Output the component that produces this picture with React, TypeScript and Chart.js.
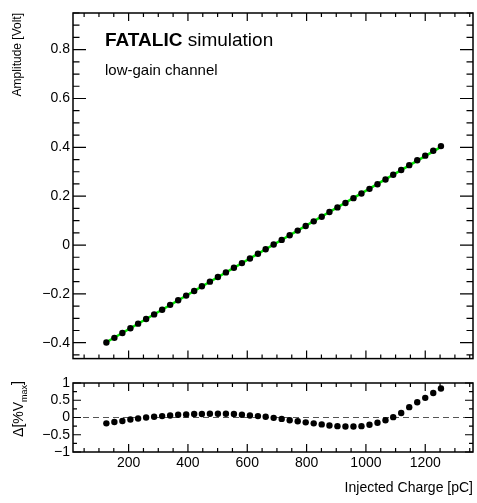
import React, { useEffect, useRef } from "react";
import { Chart, registerables } from "chart.js";

Chart.register(...registerables);

const FONT = "'Liberation Sans', Arial, Helvetica, sans-serif";

// Injected charge [pC]
const charge = [
  125, 152, 179, 206, 232, 259, 286, 313, 340, 367, 394, 421, 447, 474, 501,
  528, 555, 582, 609, 636, 662, 689, 716, 743, 770, 797, 824, 851, 877, 904,
  931, 958, 985, 1012, 1039, 1066, 1092, 1119, 1146, 1173, 1200, 1227, 1253,
];
// Amplitude [Volt]
const amplitude = [
  -0.399, -0.38, -0.36, -0.341, -0.322, -0.303, -0.284, -0.265, -0.245, -0.226,
  -0.207, -0.188, -0.169, -0.15, -0.131, -0.112, -0.093, -0.074, -0.055, -0.036,
  -0.017, 0.002, 0.021, 0.04, 0.059, 0.078, 0.097, 0.116, 0.135, 0.154, 0.172,
  0.192, 0.211, 0.23, 0.249, 0.268, 0.288, 0.307, 0.327, 0.347, 0.366, 0.386,
  0.405,
];
// Residual Δ[%Vmax]
const residual = [
  -0.17, -0.13, -0.1, -0.06, -0.03, 0.0, 0.02, 0.04, 0.06, 0.08, 0.09, 0.1,
  0.1, 0.11, 0.11, 0.11, 0.1, 0.08, 0.06, 0.04, 0.02, -0.01, -0.04, -0.08,
  -0.11, -0.14, -0.17, -0.2, -0.23, -0.25, -0.26, -0.26, -0.25, -0.21, -0.15,
  -0.08, 0.01, 0.13, 0.3, 0.44, 0.57, 0.71, 0.84,
];
// Linear fit end points
const fitCharge = [125, 1253];
const fitAmplitude = [-0.398, 0.402];

const xRange = [12.5, 1361];
const ampRange = [-0.465, 0.95];
const resRange = [-1, 1];

const fmt = (v: number) => {
  const n = Number(Number(v).toFixed(3));
  return String(n).replace("-", "\u2212");
};

type TickSpec = {
  xMajor: number; xMinor: number; xMajLen: number; xMinLen: number;
  yMajor: number; yMinor: number; yMajLen: number; yMinLen: number;
};

function framePlugin(spec: TickSpec) {
  return {
    id: "frameTicks",
    afterDatasetsDraw(chart: any) {
      const { ctx, chartArea } = chart;
      const { left, right, top, bottom } = chartArea;
      const xs = chart.scales.x;
      const ys = chart.scales.y;
      ctx.save();
      ctx.strokeStyle = "#000";
      ctx.lineWidth = 1.2;
      ctx.beginPath();
      const x0 = Math.ceil(xs.min / spec.xMinor) * spec.xMinor;
      for (let v = x0; v <= xs.max + 1e-9; v += spec.xMinor) {
        const isMaj = Math.abs(v / spec.xMajor - Math.round(v / spec.xMajor)) < 1e-6;
        const len = isMaj ? spec.xMajLen : spec.xMinLen;
        const px = xs.getPixelForValue(v);
        ctx.moveTo(px, bottom);
        ctx.lineTo(px, bottom - len);
        ctx.moveTo(px, top);
        ctx.lineTo(px, top + len);
      }
      const y0 = Math.ceil((ys.min - 1e-9) / spec.yMinor) * spec.yMinor;
      for (let v = y0; v <= ys.max + 1e-9; v += spec.yMinor) {
        const isMaj = Math.abs(v / spec.yMajor - Math.round(v / spec.yMajor)) < 1e-6;
        const len = isMaj ? spec.yMajLen : spec.yMinLen;
        const py = ys.getPixelForValue(v);
        ctx.moveTo(left, py);
        ctx.lineTo(left + len, py);
        ctx.moveTo(right, py);
        ctx.lineTo(right - len, py);
      }
      ctx.stroke();
      ctx.lineWidth = 1.5;
      ctx.strokeRect(left, top, right - left, bottom - top);
      ctx.restore();
    },
  };
}

const topTextPlugin = {
  id: "topText",
  afterDraw(chart: any) {
    const { ctx } = chart;
    ctx.save();
    ctx.fillStyle = "#000";
    ctx.textBaseline = "alphabetic";
    ctx.textAlign = "left";
    ctx.font = `bold 19px ${FONT}`;
    ctx.fillText("FATALIC", 105, 46);
    const w = ctx.measureText("FATALIC").width;
    ctx.font = `19px ${FONT}`;
    ctx.fillText(" simulation", 105 + w, 46);
    ctx.font = `15px ${FONT}`;
    ctx.fillText("low-gain channel", 105, 75);
    ctx.restore();
  },
};

const resTitlePlugin = {
  id: "resTitle",
  afterDraw(chart: any) {
    const { ctx } = chart;
    ctx.save();
    ctx.fillStyle = "#000";
    ctx.translate(19.5, 11);
    ctx.rotate(-Math.PI / 2);
    ctx.textBaseline = "middle";
    ctx.textAlign = "left";
    const main = "\u0394[%V";
    const sub = "max";
    const close = "]";
    ctx.font = `14px ${FONT}`;
    const w1 = ctx.measureText(main).width;
    const w3 = ctx.measureText(close).width;
    ctx.font = `9px ${FONT}`;
    const w2 = ctx.measureText(sub).width;
    let x = -(w1 + w2 + w3);
    ctx.font = `14px ${FONT}`;
    ctx.fillText(main, x, 0);
    x += w1;
    ctx.font = `9px ${FONT}`;
    ctx.fillText(sub, x, 5);
    x += w2;
    ctx.font = `14px ${FONT}`;
    ctx.fillText(close, x, -1);
    ctx.restore();
  },
};

export default function App() {
  const topRef = useRef<HTMLCanvasElement>(null);
  const botRef = useRef<HTMLCanvasElement>(null);

  useEffect(() => {
    Chart.defaults.font.family = FONT;
    Chart.defaults.color = "#000";

    const pts = charge.map((c, i) => ({ x: c, y: amplitude[i] }));
    const fit = fitCharge.map((c, i) => ({ x: c, y: fitAmplitude[i] }));
    const res = charge.map((c, i) => ({ x: c, y: residual[i] }));
    const zero = [
      { x: xRange[0], y: 0 },
      { x: xRange[1], y: 0 },
    ];

    const noGrid = { display: false, drawTicks: false, tickLength: 0 };

    const topChart = new Chart(topRef.current!, {
      type: "scatter",
      data: {
        datasets: [
          {
            data: pts,
            pointRadius: 3.2,
            pointBackgroundColor: "#000",
            pointBorderWidth: 0,
            showLine: false,
            order: 0,
          },
          {
            data: fit,
            showLine: true,
            borderColor: "#00ee00",
            borderWidth: 2.5,
            pointRadius: 0,
            order: 1,
          },
        ],
      },
      options: {
        animation: false,
        responsive: false,
        layout: { padding: { left: 0, top: 13, right: 4, bottom: 6 } },
        plugins: { legend: { display: false }, tooltip: { enabled: false } },
        scales: {
          x: {
            type: "linear",
            min: xRange[0],
            max: xRange[1],
            ticks: { display: false },
            grid: noGrid,
            border: { display: false },
            afterFit: (s: any) => {
              s.height = 0;
            },
          },
          y: {
            type: "linear",
            min: ampRange[0],
            max: ampRange[1],
            ticks: {
              stepSize: 0.2,
              includeBounds: false,
              autoSkip: false,
              padding: 3,
              color: "#000",
              font: { size: 14, family: FONT },
              callback: (v: any) => fmt(v),
            },
            grid: noGrid,
            border: { display: false },
            title: {
              display: true,
              text: "Amplitude [Volt]",
              align: "end",
              color: "#000",
              font: { size: 12, family: FONT },
              padding: { top: 10, bottom: 0 },
            },
            afterFit: (s: any) => {
              s.width = 73;
            },
          },
        },
      },
      plugins: [
        framePlugin({
          xMajor: 200, xMinor: 50, xMajLen: 8, xMinLen: 4,
          yMajor: 0.2, yMinor: 0.05, yMajLen: 13, yMinLen: 6.5,
        }),
        topTextPlugin,
      ],
    } as any);

    const botChart = new Chart(botRef.current!, {
      type: "scatter",
      data: {
        datasets: [
          {
            data: res,
            pointRadius: 3.2,
            pointBackgroundColor: "#000",
            pointBorderWidth: 0,
            showLine: false,
            order: 0,
          },
          {
            data: zero,
            showLine: true,
            borderColor: "#555",
            borderWidth: 1.2,
            borderDash: [6, 4],
            pointRadius: 0,
            order: 1,
          },
        ],
      },
      options: {
        animation: false,
        responsive: false,
        layout: { padding: { left: 0, top: 13, right: 4, bottom: 0 } },
        plugins: { legend: { display: false }, tooltip: { enabled: false } },
        scales: {
          x: {
            type: "linear",
            min: xRange[0],
            max: xRange[1],
            ticks: {
              stepSize: 200,
              includeBounds: false,
              autoSkip: false,
              padding: 3,
              maxRotation: 0,
              color: "#000",
              font: { size: 14, family: FONT },
              callback: (v: any) => fmt(v),
            },
            grid: noGrid,
            border: { display: false },
            title: {
              display: true,
              text: "Injected Charge [pC]",
              align: "end",
              color: "#000",
              font: { size: 14, family: FONT },
              padding: { top: 0, bottom: 6 },
            },
            afterFit: (s: any) => {
              s.height = 51;
            },
          },
          y: {
            type: "linear",
            min: resRange[0],
            max: resRange[1],
            ticks: {
              stepSize: 0.5,
              includeBounds: false,
              autoSkip: false,
              padding: 3,
              color: "#000",
              font: { size: 14, family: FONT },
              callback: (v: any) => fmt(v),
            },
            grid: noGrid,
            border: { display: false },
            afterFit: (s: any) => {
              s.width = 73;
            },
          },
        },
      },
      plugins: [
        framePlugin({
          xMajor: 200, xMinor: 50, xMajLen: 8, xMinLen: 4,
          yMajor: 0.5, yMinor: 0.25, yMajLen: 8, yMinLen: 4,
        }),
        resTitlePlugin,
      ],
    } as any);

    return () => {
      topChart.destroy();
      botChart.destroy();
    };
  }, []);

  return (
    <div
      style={{
        position: "absolute",
        left: 0,
        top: 0,
        width: 477,
        height: 503,
        background: "#fff",
      }}
    >
      <canvas
        ref={topRef}
        width={477}
        height={370}
        style={{ position: "absolute", left: 0, top: 0, width: 477, height: 370 }}
      />
      <canvas
        ref={botRef}
        width={477}
        height={133}
        style={{ position: "absolute", left: 0, top: 370, width: 477, height: 133 }}
      />
    </div>
  );
}
